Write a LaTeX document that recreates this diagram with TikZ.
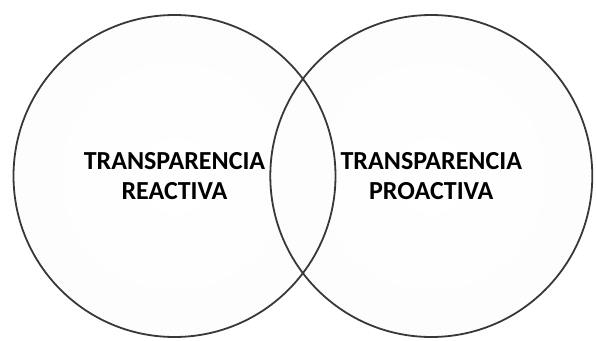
\documentclass[tikz,border=0pt]{standalone}
\usepackage{fontspec}
\setmainfont{Carlito}
\usetikzlibrary{positioning,backgrounds}
\pgfdeclareradialshading{vennfill}{\pgfpoint{0bp}{0bp}}{%
  color(0bp)=(white); color(30bp)=(black!1); color(45bp)=(black!3); color(50bp)=(black!9)}
\tikzset{
  venn/.style={circle,draw=black!78,line width=1.8pt,minimum size=322pt,
    align=center,font=\bfseries\fontsize{26}{30}\selectfont}
}
\begin{document}
\begin{tikzpicture}[x=1pt,y=-1pt]
  \useasboundingbox (0,0) rectangle (597,340);
  \node[venn] (reactiva) at (174.5,176) {TRANSPARENCIA\\REACTIVA};
  \node[venn,right=-67pt of reactiva] (proactiva) {TRANSPARENCIA\\PROACTIVA};
  % soft fill behind the outlines
  \begin{scope}[on background layer]
    \shade[shading=vennfill,fill opacity=0.8] (reactiva.center) circle[radius=161pt];
    \shade[shading=vennfill,fill opacity=0.8] (proactiva.center) circle[radius=161pt];
  \end{scope}
\end{tikzpicture}
\end{document}
